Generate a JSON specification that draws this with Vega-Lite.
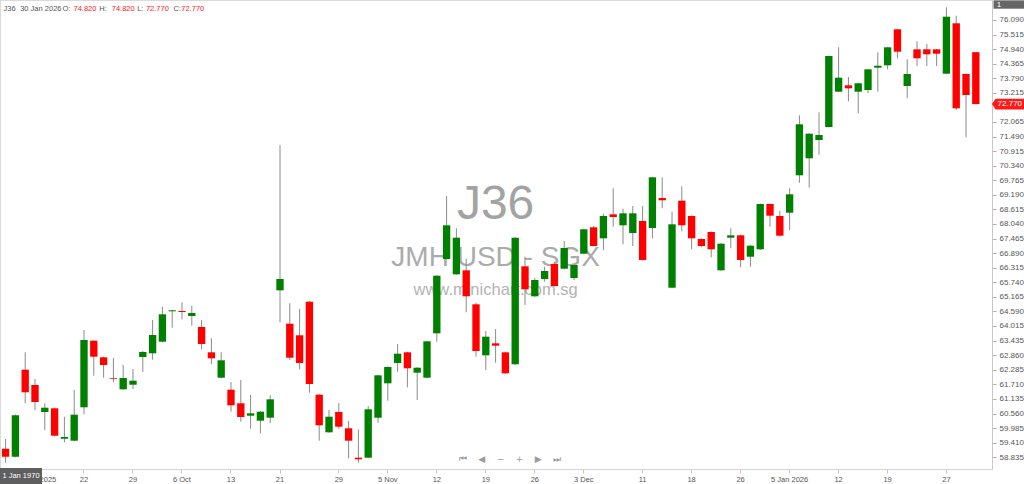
{
  "$schema": "https://vega.github.io/schema/vega-lite/v6.json",
  "width": 992,
  "height": 469,
  "autosize": {"type": "none"},
  "padding": {"left": 0, "top": 0, "right": 32, "bottom": 15},
  "background": "#ffffff",
  "config": {
    "view": {"stroke": "#b4b4b4", "strokeDash": [1, 1], "strokeWidth": 1},
    "font": "Liberation Sans",
    "axisY": {"labelOverlap": false, "labelBound": false, "labelFlush": false, "tickCount": 40}
  },
  "data": {
    "values": [
      {"d":"2025-09-10","o":59.172,"h":59.555,"l":58.619,"c":58.856},
      {"d":"2025-09-11","o":58.856,"h":60.52,"l":58.83,"c":60.49},
      {"d":"2025-09-12","o":62.29,"h":62.976,"l":60.964,"c":61.397},
      {"d":"2025-09-15","o":61.686,"h":61.922,"l":60.699,"c":61.015},
      {"d":"2025-09-16","o":60.62,"h":60.964,"l":59.91,"c":60.79},
      {"d":"2025-09-17","o":60.766,"h":60.8,"l":59.65,"c":59.685},
      {"d":"2025-09-18","o":59.566,"h":60.435,"l":59.425,"c":59.634},
      {"d":"2025-09-19","o":59.488,"h":61.488,"l":59.46,"c":60.514},
      {"d":"2025-09-22","o":60.806,"h":63.856,"l":60.529,"c":63.461},
      {"d":"2025-09-23","o":63.434,"h":63.45,"l":62.053,"c":62.803},
      {"d":"2025-09-24","o":62.779,"h":62.8,"l":61.974,"c":62.475},
      {"d":"2025-09-25","o":61.962,"h":62.751,"l":61.792,"c":61.934},
      {"d":"2025-09-26","o":61.516,"h":62.475,"l":61.5,"c":61.962},
      {"d":"2025-09-29","o":61.697,"h":62.317,"l":61.528,"c":61.855},
      {"d":"2025-09-30","o":62.791,"h":63.027,"l":62.199,"c":62.988},
      {"d":"2025-10-01","o":62.937,"h":64.251,"l":62.684,"c":63.659},
      {"d":"2025-10-02","o":63.394,"h":64.776,"l":63.37,"c":64.476},
      {"d":"2025-10-03","o":64.594,"h":64.65,"l":63.947,"c":64.634},
      {"d":"2025-10-06","o":64.606,"h":64.949,"l":64.278,"c":64.567},
      {"d":"2025-10-07","o":64.409,"h":64.815,"l":64.026,"c":64.527},
      {"d":"2025-10-08","o":63.975,"h":64.251,"l":63.094,"c":63.304},
      {"d":"2025-10-09","o":62.976,"h":63.529,"l":62.503,"c":62.739},
      {"d":"2025-10-10","o":61.974,"h":62.976,"l":61.95,"c":62.66},
      {"d":"2025-10-13","o":61.5,"h":61.804,"l":60.632,"c":60.885},
      {"d":"2025-10-14","o":60.964,"h":61.883,"l":60.238,"c":60.423},
      {"d":"2025-10-15","o":60.474,"h":61.291,"l":59.961,"c":60.569},
      {"d":"2025-10-16","o":60.277,"h":60.66,"l":59.78,"c":60.632},
      {"d":"2025-10-17","o":60.395,"h":61.279,"l":60.186,"c":61.121},
      {"d":"2025-10-21","o":65.423,"h":71.157,"l":64.16,"c":65.869},
      {"d":"2025-10-22","o":64.105,"h":64.91,"l":62.672,"c":62.763},
      {"d":"2025-10-23","o":63.647,"h":64.685,"l":62.305,"c":62.554},
      {"d":"2025-10-24","o":64.973,"h":65.0,"l":61.382,"c":61.725},
      {"d":"2025-10-27","o":61.303,"h":61.33,"l":59.488,"c":60.095},
      {"d":"2025-10-28","o":59.819,"h":60.699,"l":59.8,"c":60.435},
      {"d":"2025-10-29","o":60.62,"h":60.975,"l":59.961,"c":60.04},
      {"d":"2025-10-30","o":59.977,"h":60.265,"l":58.793,"c":59.488},
      {"d":"2025-10-31","o":58.817,"h":59.937,"l":58.619,"c":58.754},
      {"d":"2025-11-03","o":58.817,"h":60.857,"l":58.8,"c":60.727},
      {"d":"2025-11-04","o":60.395,"h":62.09,"l":60.198,"c":62.068},
      {"d":"2025-11-05","o":61.753,"h":62.42,"l":61.066,"c":62.396},
      {"d":"2025-11-06","o":62.554,"h":63.304,"l":62.211,"c":62.921},
      {"d":"2025-11-07","o":62.976,"h":63.0,"l":61.595,"c":62.345},
      {"d":"2025-11-10","o":62.171,"h":62.39,"l":61.094,"c":62.368},
      {"d":"2025-11-11","o":61.974,"h":63.43,"l":61.95,"c":63.41},
      {"d":"2025-11-12","o":63.726,"h":66.02,"l":63.394,"c":65.999},
      {"d":"2025-11-13","o":66.658,"h":69.144,"l":66.64,"c":67.988},
      {"d":"2025-11-14","o":66.054,"h":67.87,"l":66.03,"c":67.499},
      {"d":"2025-11-17","o":66.212,"h":66.67,"l":64.555,"c":65.186},
      {"d":"2025-11-18","o":64.87,"h":64.933,"l":62.803,"c":63.027},
      {"d":"2025-11-19","o":62.858,"h":63.817,"l":62.278,"c":63.592},
      {"d":"2025-11-20","o":63.331,"h":63.896,"l":62.566,"c":63.237},
      {"d":"2025-11-21","o":62.976,"h":63.0,"l":62.12,"c":62.147},
      {"d":"2025-11-24","o":62.503,"h":67.52,"l":62.48,"c":67.499},
      {"d":"2025-11-25","o":66.37,"h":66.749,"l":64.843,"c":65.462},
      {"d":"2025-11-26","o":65.186,"h":65.91,"l":65.16,"c":65.829},
      {"d":"2025-11-27","o":65.869,"h":66.354,"l":65.762,"c":66.185},
      {"d":"2025-11-28","o":66.461,"h":66.551,"l":65.57,"c":65.592},
      {"d":"2025-12-01","o":66.275,"h":67.368,"l":66.25,"c":67.092},
      {"d":"2025-12-02","o":65.908,"h":66.44,"l":65.829,"c":66.421},
      {"d":"2025-12-03","o":66.867,"h":67.85,"l":66.85,"c":67.83},
      {"d":"2025-12-04","o":67.909,"h":67.96,"l":67.15,"c":67.171},
      {"d":"2025-12-05","o":67.475,"h":68.446,"l":67.013,"c":68.355},
      {"d":"2025-12-08","o":68.422,"h":69.448,"l":67.933,"c":68.315},
      {"d":"2025-12-09","o":67.988,"h":68.643,"l":67.238,"c":68.461},
      {"d":"2025-12-10","o":67.684,"h":68.75,"l":67.171,"c":68.461},
      {"d":"2025-12-11","o":68.158,"h":68.75,"l":66.6,"c":66.619},
      {"d":"2025-12-12","o":67.881,"h":69.9,"l":67.475,"c":69.882},
      {"d":"2025-12-15","o":69.065,"h":69.882,"l":68.659,"c":68.975},
      {"d":"2025-12-16","o":65.525,"h":68.525,"l":65.5,"c":68.027},
      {"d":"2025-12-17","o":68.959,"h":69.527,"l":67.751,"c":67.988},
      {"d":"2025-12-18","o":68.355,"h":68.38,"l":67.041,"c":67.475},
      {"d":"2025-12-19","o":67.447,"h":67.47,"l":67.12,"c":67.171},
      {"d":"2025-12-22","o":67.724,"h":67.75,"l":66.725,"c":67.041},
      {"d":"2025-12-23","o":66.212,"h":67.28,"l":66.19,"c":67.262},
      {"d":"2025-12-24","o":67.499,"h":67.87,"l":67.08,"c":67.593},
      {"d":"2025-12-26","o":67.593,"h":67.62,"l":66.33,"c":66.619},
      {"d":"2025-12-29","o":66.749,"h":67.21,"l":66.354,"c":67.183},
      {"d":"2025-12-30","o":67.041,"h":68.85,"l":67.02,"c":68.829},
      {"d":"2025-12-31","o":68.829,"h":68.85,"l":67.933,"c":68.367},
      {"d":"2026-01-02","o":68.355,"h":68.552,"l":67.55,"c":67.578},
      {"d":"2026-01-05","o":68.485,"h":69.448,"l":67.802,"c":69.211},
      {"d":"2026-01-06","o":69.961,"h":72.329,"l":69.669,"c":71.974},
      {"d":"2026-01-07","o":70.632,"h":71.62,"l":69.472,"c":71.603},
      {"d":"2026-01-08","o":71.354,"h":72.447,"l":70.774,"c":71.552},
      {"d":"2026-01-09","o":71.867,"h":74.69,"l":71.85,"c":74.669},
      {"d":"2026-01-12","o":73.26,"h":75.012,"l":73.24,"c":73.813},
      {"d":"2026-01-13","o":73.513,"h":73.84,"l":72.881,"c":73.394},
      {"d":"2026-01-14","o":73.26,"h":73.61,"l":72.408,"c":73.592},
      {"d":"2026-01-15","o":73.327,"h":74.16,"l":73.197,"c":74.144},
      {"d":"2026-01-16","o":74.207,"h":74.815,"l":73.26,"c":74.286},
      {"d":"2026-01-19","o":74.302,"h":75.03,"l":74.144,"c":75.012},
      {"d":"2026-01-20","o":75.723,"h":75.74,"l":74.578,"c":74.839},
      {"d":"2026-01-21","o":73.485,"h":74.539,"l":73.0,"c":73.959},
      {"d":"2026-01-22","o":74.933,"h":75.249,"l":74.274,"c":74.578},
      {"d":"2026-01-23","o":74.933,"h":75.143,"l":74.274,"c":74.736},
      {"d":"2026-01-26","o":74.933,"h":74.95,"l":74.274,"c":74.76},
      {"d":"2026-01-27","o":73.971,"h":76.591,"l":73.95,"c":76.22},
      {"d":"2026-01-28","o":75.96,"h":76.259,"l":72.538,"c":72.605},
      {"d":"2026-01-29","o":73.959,"h":73.98,"l":71.461,"c":73.13},
      {"d":"2026-01-30","o":74.82,"h":74.82,"l":72.77,"c":72.77}
    ]
  },
  "encoding": {
    "x": {
      "field": "d",
      "type": "ordinal",
      "scale": {
        "domain": ["2025-09-10","2025-09-11","2025-09-12","2025-09-15","2025-09-16","2025-09-17","2025-09-18","2025-09-19","2025-09-22","2025-09-23","2025-09-24","2025-09-25","2025-09-26","2025-09-29","2025-09-30","2025-10-01","2025-10-02","2025-10-03","2025-10-06","2025-10-07","2025-10-08","2025-10-09","2025-10-10","2025-10-13","2025-10-14","2025-10-15","2025-10-16","2025-10-17","2025-10-21","2025-10-22","2025-10-23","2025-10-24","2025-10-27","2025-10-28","2025-10-29","2025-10-30","2025-10-31","2025-11-03","2025-11-04","2025-11-05","2025-11-06","2025-11-07","2025-11-10","2025-11-11","2025-11-12","2025-11-13","2025-11-14","2025-11-17","2025-11-18","2025-11-19","2025-11-20","2025-11-21","2025-11-24","2025-11-25","2025-11-26","2025-11-27","2025-11-28","2025-12-01","2025-12-02","2025-12-03","2025-12-04","2025-12-05","2025-12-08","2025-12-09","2025-12-10","2025-12-11","2025-12-12","2025-12-15","2025-12-16","2025-12-17","2025-12-18","2025-12-19","2025-12-22","2025-12-23","2025-12-24","2025-12-26","2025-12-29","2025-12-30","2025-12-31","2026-01-02","2026-01-05","2026-01-06","2026-01-07","2026-01-08","2026-01-09","2026-01-12","2026-01-13","2026-01-14","2026-01-15","2026-01-16","2026-01-19","2026-01-20","2026-01-21","2026-01-22","2026-01-23","2026-01-26","2026-01-27","2026-01-28","2026-01-29","2026-01-30"],
        "paddingInner": 0.25,
        "paddingOuter": 0.736,
        "align": 0.133,
        "round": false
      },
      "axis": {
        "title": null,
        "grid": false,
        "values": ["2025-09-15","2025-09-22","2025-09-29","2025-10-06","2025-10-13","2025-10-21","2025-10-29","2025-11-05","2025-11-12","2025-11-19","2025-11-26","2025-12-03","2025-12-11","2025-12-18","2025-12-26","2026-01-05","2026-01-12","2026-01-19","2026-01-27"],
        "labelExpr": "datum.value == '2025-09-15' ? '15 Sep 2025' : datum.value == '2025-10-06' ? '6 Oct' : datum.value == '2025-11-05' ? '5 Nov' : datum.value == '2025-12-03' ? '3 Dec' : datum.value == '2026-01-05' ? '5 Jan 2026' : '' + toNumber(substring(datum.value, 8, 10))",
        "labelAngle": 0,
        "labelFont": "Liberation Sans",
        "labelFontSize": 7.5,
        "labelColor": "#555555",
        "labelPadding": 2,
        "labelOverlap": false,
        "tickSize": 4,
        "tickColor": "#c4c4c4",
        "domainColor": "#d4d4d4"
      }
    }
  },
  "layer": [
    {
      "data": {"values": [{}]},
      "mark": {"type": "text", "text": "J36", "font": "Liberation Sans", "fontSize": 48, "color": "#a3a3a3", "align": "center", "baseline": "middle"},
      "encoding": {"x": {"datum": "2025-11-20", "type": "ordinal"}, "y": {"datum": 68.79, "type": "quantitative"}}
    },
    {
      "data": {"values": [{}]},
      "mark": {"type": "text", "text": "JMH USD - SGX", "font": "Liberation Sans", "fontSize": 28, "color": "#ababab", "align": "center", "baseline": "middle"},
      "encoding": {"x": {"datum": "2025-11-20", "type": "ordinal"}, "y": {"datum": 66.7, "type": "quantitative"}}
    },
    {
      "data": {"values": [{}]},
      "mark": {"type": "text", "text": "www.minichart.com.sg", "font": "Liberation Sans", "fontSize": 16.5, "color": "#b3b3b3", "align": "center", "baseline": "middle"},
      "encoding": {"x": {"datum": "2025-11-20", "type": "ordinal"}, "y": {"datum": 65.43, "type": "quantitative"}}
    },
    {
      "mark": {"type": "rule", "color": "#8a8a8a", "strokeWidth": 1},
      "encoding": {
        "y": {
          "field": "l",
          "type": "quantitative",
          "scale": {"domain": [58.371, 76.879], "zero": false, "nice": false},
          "axis": {
            "orient": "right",
            "title": null,
            "grid": false,
            "values": [58.835,59.41,59.985,60.56,61.135,61.71,62.285,62.86,63.435,64.015,64.59,65.165,65.74,66.315,66.89,67.465,68.04,68.615,69.19,69.765,70.34,70.915,71.49,72.065,73.215,73.79,74.365,74.94,75.515,76.09],
            "tickCount": 40,
            "format": ".3f",
            "labelFont": "Liberation Sans",
            "labelFontSize": 8,
            "labelColor": "#555555",
            "labelPadding": 3,
            "labelOverlap": false,
            "tickSize": 4,
            "tickColor": "#b0b0b0",
            "domainColor": "#c8c8c8"
          }
        },
        "y2": {"field": "h"}
      }
    },
    {
      "mark": {"type": "bar"},
      "encoding": {
        "y": {"field": "o", "type": "quantitative"},
        "y2": {"field": "c"},
        "color": {"condition": {"test": "datum.c >= datum.o", "value": "#008000"}, "value": "#ff0000"}
      }
    },
    {
      "data": {"values": [{}]},
      "mark": {"type": "text", "text": "⏮\u00a0\u00a0\u00a0\u00a0◀\u00a0\u00a0\u00a0\u00a0−\u00a0\u00a0\u00a0\u00a0+\u00a0\u00a0\u00a0\u00a0▶\u00a0\u00a0\u00a0\u00a0⏭", "font": "DejaVu Sans", "fontSize": 9, "color": "#9a9a9a", "align": "center", "baseline": "middle", "dx": 4.6},
      "encoding": {"x": {"datum": "2025-11-21", "type": "ordinal"}, "y": {"datum": 58.75, "type": "quantitative"}}
    },
    {
      "data": {"values": [{}]},
      "mark": {"type": "text", "text": "J36", "fontSize": 7.5, "color": "#555555", "align": "left", "baseline": "middle", "dx": -2},
      "encoding": {"x": {"datum": "2025-09-10", "type": "ordinal"}, "y": {"datum": 76.524, "type": "quantitative"}}
    },
    {
      "data": {"values": [{}]},
      "mark": {"type": "text", "text": "30 Jan 2026", "fontSize": 7.5, "color": "#555555", "align": "left", "baseline": "middle", "dx": -5},
      "encoding": {"x": {"datum": "2025-09-12", "type": "ordinal"}, "y": {"datum": 76.524, "type": "quantitative"}}
    },
    {
      "data": {"values": [{}]},
      "mark": {"type": "text", "text": "O:", "fontSize": 7.5, "color": "#555555", "align": "center", "baseline": "middle", "dx": 2},
      "encoding": {"x": {"datum": "2025-09-18", "type": "ordinal"}, "y": {"datum": 76.524, "type": "quantitative"}}
    },
    {
      "data": {"values": [{}]},
      "mark": {"type": "text", "text": "74.820", "fontSize": 7.5, "color": "#ff2020", "align": "center", "baseline": "middle", "dx": 1},
      "encoding": {"x": {"datum": "2025-09-22", "type": "ordinal"}, "y": {"datum": 76.524, "type": "quantitative"}}
    },
    {
      "data": {"values": [{}]},
      "mark": {"type": "text", "text": "H:", "fontSize": 7.5, "color": "#555555", "align": "center", "baseline": "middle", "dx": -0.5},
      "encoding": {"x": {"datum": "2025-09-24", "type": "ordinal"}, "y": {"datum": 76.524, "type": "quantitative"}}
    },
    {
      "data": {"values": [{}]},
      "mark": {"type": "text", "text": "74.820", "fontSize": 7.5, "color": "#ff2020", "align": "center", "baseline": "middle", "dx": 0},
      "encoding": {"x": {"datum": "2025-09-26", "type": "ordinal"}, "y": {"datum": 76.524, "type": "quantitative"}}
    },
    {
      "data": {"values": [{}]},
      "mark": {"type": "text", "text": "L:", "fontSize": 7.5, "color": "#555555", "align": "center", "baseline": "middle", "dx": -2.5},
      "encoding": {"x": {"datum": "2025-09-30", "type": "ordinal"}, "y": {"datum": 76.524, "type": "quantitative"}}
    },
    {
      "data": {"values": [{}]},
      "mark": {"type": "text", "text": "72.770", "fontSize": 7.5, "color": "#ff2020", "align": "center", "baseline": "middle", "dx": -5},
      "encoding": {"x": {"datum": "2025-10-02", "type": "ordinal"}, "y": {"datum": 76.524, "type": "quantitative"}}
    },
    {
      "data": {"values": [{}]},
      "mark": {"type": "text", "text": "C:", "fontSize": 7.5, "color": "#555555", "align": "center", "baseline": "middle", "dx": 5},
      "encoding": {"x": {"datum": "2025-10-03", "type": "ordinal"}, "y": {"datum": 76.524, "type": "quantitative"}}
    },
    {
      "data": {"values": [{}]},
      "mark": {"type": "text", "text": "72.770", "fontSize": 7.5, "color": "#ff2020", "align": "center", "baseline": "middle", "dx": 1},
      "encoding": {"x": {"datum": "2025-10-07", "type": "ordinal"}, "y": {"datum": 76.524, "type": "quantitative"}}
    },
    {
      "data": {"values": [{}]},
      "mark": {"type": "point", "shape": "M -1 0 L -0.78 -0.33 L 1 -0.33 L 1 0.33 L -0.78 0.33 Z", "size": 1024, "filled": true, "color": "#ff1a1a", "opacity": 1, "strokeWidth": 0, "xOffset": 32.2},
      "encoding": {"x": {"datum": "2026-01-30", "type": "ordinal"}, "y": {"datum": 72.77, "type": "quantitative"}}
    },
    {
      "data": {"values": [{}]},
      "mark": {"type": "text", "text": "72.770", "fontSize": 8, "color": "#ffffff", "align": "center", "baseline": "middle", "dx": 34},
      "encoding": {"x": {"datum": "2026-01-30", "type": "ordinal"}, "y": {"datum": 72.77, "type": "quantitative"}}
    },
    {
      "data": {"values": [{}]},
      "mark": {"type": "point", "shape": "M -1 -0.27 L 1 -0.27 L 1 0.27 L -1 0.27 Z", "size": 961, "filled": true, "color": "#666666", "opacity": 1, "strokeWidth": 0, "xOffset": 33.2},
      "encoding": {"x": {"datum": "2026-01-30", "type": "ordinal"}, "y": {"datum": 76.7, "type": "quantitative"}}
    },
    {
      "data": {"values": [{}]},
      "mark": {"type": "text", "text": "1", "fontSize": 8, "color": "#ffffff", "align": "left", "baseline": "middle", "dx": 21},
      "encoding": {"x": {"datum": "2026-01-30", "type": "ordinal"}, "y": {"datum": 76.7, "type": "quantitative"}}
    },
    {
      "data": {"values": [{}]},
      "mark": {"type": "point", "shape": "M -1 -0.38 L 1 -0.38 L 1 0.38 L -1 0.38 Z", "size": 1764, "filled": true, "color": "#5f5f5f", "opacity": 1, "strokeWidth": 0, "xOffset": 15.4},
      "encoding": {"x": {"datum": "2025-09-10", "type": "ordinal"}, "y": {"datum": 58.095, "type": "quantitative"}}
    },
    {
      "data": {"values": [{}]},
      "mark": {"type": "text", "text": "1 Jan 1970", "fontSize": 7.5, "color": "#ffffff", "align": "center", "baseline": "middle", "dx": 15.4},
      "encoding": {"x": {"datum": "2025-09-10", "type": "ordinal"}, "y": {"datum": 58.095, "type": "quantitative"}}
    }
  ]
}
